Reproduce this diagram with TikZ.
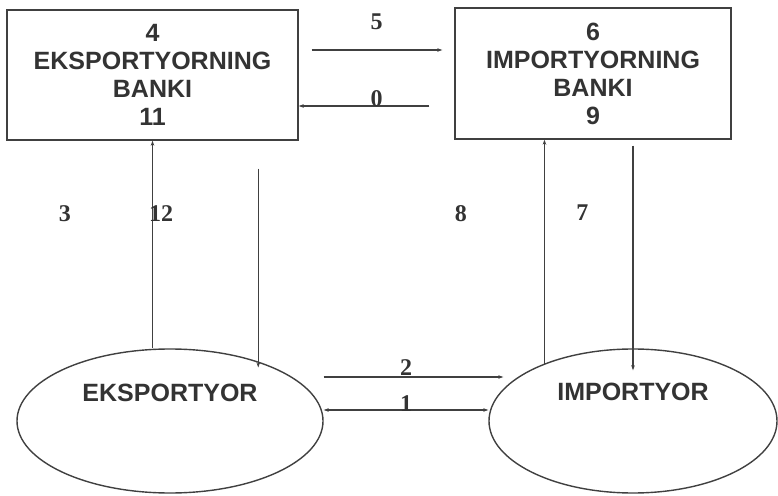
\documentclass[tikz,border=0pt]{standalone}
\usepackage{fontspec}
\setmainfont{Liberation Serif}
\setsansfont{Liberation Sans}
\usetikzlibrary{arrows.meta,positioning,shapes.geometric}

\begin{document}
\begin{tikzpicture}[
    x=1pt, y=1pt,
    bank/.style={
        rectangle,
        draw=black!75,
        line width=1.4pt,
        align=center,
        minimum width=291pt,
        minimum height=130pt,
        text=black!80,
        font=\sffamily\bfseries\fontsize{25}{28}\selectfont
    },
    party/.style={
        ellipse,
        draw=black!75,
        line width=1.4pt,
        minimum height=144pt
    },
    partytext/.style={
        text=black!80,
        font=\sffamily\bfseries\fontsize{25}{28}\selectfont
    },
    arrow/.style={-{Stealth[length=5pt,width=3.5pt]}, line width=1.1pt, draw=black!75},
    twoway/.style={{Stealth[length=5pt,width=3.5pt]}-{Stealth[length=5pt,width=3.5pt]}, line width=1.1pt, draw=black!75},
    num/.style={font=\bfseries\fontsize{24}{24}\selectfont, text=black!80, inner sep=0pt}
]
\useasboundingbox (0,0) rectangle (778,495);

\node[bank] (ebank) at (152.5,420) {4\\EKSPORTYORNING\\BANKI\\11};
\node[bank, minimum width=276pt, minimum height=131pt] (ibank) at (593,421.5) {6\\IMPORTYORNING\\BANKI\\9};
\node[party, minimum width=306pt, label={[partytext, yshift=28pt]center:EKSPORTYOR}] (exp) at (170,74) {};
\node[party, minimum width=288pt, label={[partytext, yshift=29pt]center:IMPORTYOR}] (imp) at (633,74) {};

% banks
\draw[arrow, shorten <=13pt, shorten >=12pt] ([yshift=25pt]ebank.east) -- node[num, above=20pt] {5} ([yshift=25pt]ebank.east -| ibank.west);
\draw[arrow, shorten <=25pt] ([yshift=-32.5pt]ibank.west) -- node[num, above=-1pt] {0} ([yshift=-32.5pt]ibank.west -| ebank.east);

% exporter side
\draw[arrow] (exp.north -| ebank.south) -- node[num, pos=0.65, right=-4pt] {12} node[num, pos=0.65, left=81pt] {3} (ebank.south);
\draw[arrow, shorten >=-6pt] ([yshift=-28pt]ebank.south -| exp.34) -- (exp.34);

% importer side
\draw[arrow] (imp.147) -- node[num, pos=0.67, left=77pt] {8} (imp.147 |- ibank.south);
\draw[arrow, shorten >=-22pt] ([yshift=-6pt]ibank.south -| imp.north) -- node[num, pos=0.33, left=44pt] {7} (imp.north);

% exporter - importer
\draw[arrow, shorten >=-15pt] ([yshift=44pt]exp.east) -- node[num, above=1pt] {2} ([yshift=44pt]imp.west);
\draw[twoway] ([yshift=11pt]exp.east) -- node[num, above=-2pt] {1} ([yshift=11pt]imp.west);

\end{tikzpicture}
\end{document}
